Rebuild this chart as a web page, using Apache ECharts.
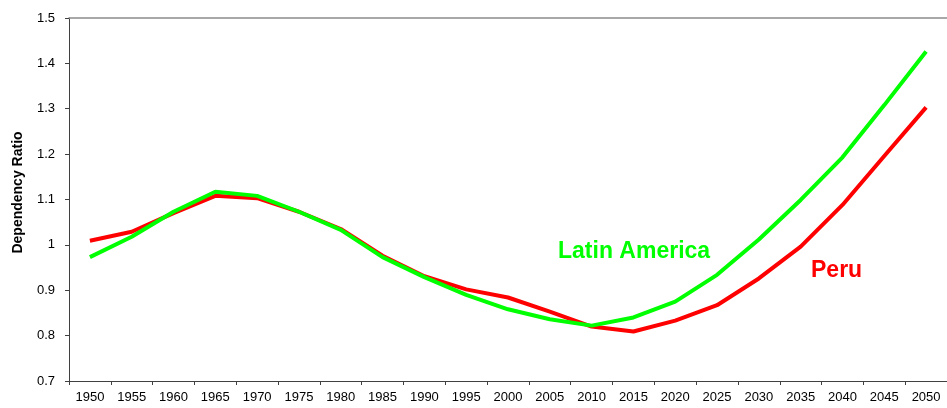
<!DOCTYPE html>
<html>
<head>
<meta charset="utf-8">
<script src="https://cdn.jsdelivr.net/npm/echarts@6/dist/echarts.min.js"></script>
<style>html,body{margin:0;padding:0;background:#fff}#c{width:947px;height:408px}</style>
</head>
<body>
<div id="c"></div>
<script>
const years = ['1950','1955','1960','1965','1970','1975','1980','1985','1990','1995','2000','2005','2010','2015','2020','2025','2030','2035','2040','2045','2050'];
const latinAmerica = [0.973,1.018,1.073,1.117,1.108,1.073,1.033,0.973,0.929,0.890,0.858,0.836,0.822,0.840,0.875,0.934,1.012,1.099,1.193,1.308,1.426];
const peru = [1.009,1.029,1.070,1.108,1.103,1.073,1.035,0.976,0.931,0.902,0.884,0.853,0.820,0.809,0.833,0.867,0.926,0.996,1.088,1.196,1.303];
const yTicks = {min:0.7, max:1.5, interval:0.1};

const chart = echarts.init(document.getElementById('c'), null, {renderer:'canvas'});
const font = 'Liberation Sans, Arial, sans-serif';
chart.setOption({
  animation:false,
  grid:{left:69, right:-7, top:18, bottom:27, containLabel:false},
  xAxis:[{
    type:'category', data:years, boundaryGap:true, position:'bottom',
    axisLine:{lineStyle:{color:'#404040', width:1}},
    axisTick:{show:true, alignWithLabel:false, length:4, lineStyle:{color:'#404040'}},
    axisLabel:{color:'#000', fontFamily:font, fontSize:13, margin:10, interval:0},
    splitLine:{show:false}
  },{
    type:'category', data:years, position:'top', gridIndex:0,
    axisLine:{lineStyle:{color:'#8c8c8c', width:1.5}},
    axisTick:{show:false}, axisLabel:{show:false}, splitLine:{show:false}
  }],
  yAxis:{
    type:'value', min:yTicks.min, max:yTicks.max, interval:yTicks.interval,
    name:'Dependency Ratio', nameLocation:'middle', nameGap:44,
    nameTextStyle:{color:'#000', fontFamily:font, fontSize:14, fontWeight:'bold', padding:[0,0,0,14]},
    axisLine:{show:true, lineStyle:{color:'#404040', width:1}},
    axisTick:{show:true, length:4, lineStyle:{color:'#404040'}},
    axisLabel:{color:'#000', fontFamily:font, fontSize:13, margin:14,
      formatter:v=>{const r=Math.round(v*10)/10; return r===1?'1':r.toFixed(1);}},
    splitLine:{show:false}
  },
  series:[
    {name:'Peru', type:'line', data:peru, symbol:'none', smooth:false,
     lineStyle:{color:'#ff0000', width:4}, itemStyle:{color:'#ff0000'}, z:2},
    {name:'Latin America', type:'line', data:latinAmerica, symbol:'none', smooth:false,
     lineStyle:{color:'#00ff00', width:4}, itemStyle:{color:'#00ff00'}, z:3}
  ],
  graphic:[
    {type:'text', left:558, top:240, style:{text:'Latin America', fill:'#00ff00', font:'bold 23px '+font}},
    {type:'text', left:811, top:259, style:{text:'Peru', fill:'#ff0000', font:'bold 23px '+font}}
  ]
});
</script>
</body>
</html>
